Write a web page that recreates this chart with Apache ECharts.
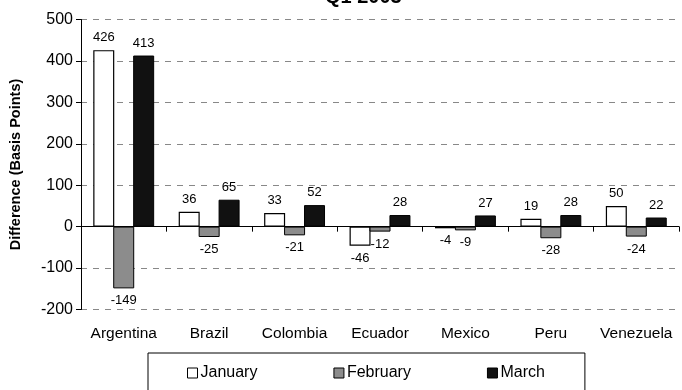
<!DOCTYPE html>
<html>
<head>
<meta charset="utf-8">
<style>
html,body{margin:0;padding:0;background:#fff;}
#chart{width:682px;height:390px;}
</style>
<script src="https://cdn.jsdelivr.net/npm/echarts@6/dist/echarts.min.js"></script>
</head>
<body>
<div id="chart"></div>
<script>
var categories = ['Argentina', 'Brazil', 'Colombia', 'Ecuador', 'Mexico', 'Peru', 'Venezuela'];
var january = [426, 36, 33, -46, -4, 19, 50];
var february = [-149, -25, -21, -12, -9, -28, -24];
var march = [413, 65, 52, 28, 27, 28, 22];
var seriesNames = ['January', 'February', 'March'];
var titleText = 'Q1 2003';
var yAxisName = 'Difference (Basis Points)';

var FONT = '"Liberation Sans", Arial, sans-serif';

function withLabels(arr) {
  return arr.map(function (v) {
    return { value: v, label: { position: v < 0 ? 'bottom' : 'top' } };
  });
}

var chart = echarts.init(document.getElementById('chart'));
var option = {
  backgroundColor: '#fff',
  animation: false,
  textStyle: { fontFamily: FONT, color: '#000' },
  title: {
    text: titleText,
    left: 325,
    top: -13,
    padding: 0,
    textStyle: { fontFamily: FONT, fontSize: 20, fontWeight: 'bold', color: '#000' }
  },
  legend: {
    data: seriesNames,
    left: 148,
    top: 353,
    orient: 'horizontal',
    padding: [12, 40, 20, 39],
    itemGap: 76,
    itemWidth: 10,
    itemHeight: 10,
    icon: 'rect',
    itemStyle: { borderColor: '#000', borderWidth: 1 },
    borderColor: '#000',
    borderWidth: 1,
    textStyle: { fontFamily: FONT, fontSize: 16, color: '#000', padding: [0, 0, 0, -2] }
  },
  grid: { left: 77, right: 3, top: 19.5, bottom: 80.5, containLabel: false },
  xAxis: [
    {
      type: 'category',
      data: categories,
      axisLine: { show: false, onZero: false },
      axisTick: { show: false },
      axisLabel: { interval: 0, fontFamily: FONT, fontSize: 15.5, color: '#000', margin: 16 },
      splitLine: { show: false }
    },
    {
      type: 'category',
      data: categories,
      position: 'bottom',
      axisLine: { show: true, onZero: true, lineStyle: { color: '#000', width: 1 } },
      axisTick: { show: true, interval: 0, length: 5, lineStyle: { color: '#000' } },
      axisLabel: { show: false },
      splitLine: { show: false }
    }
  ],
  yAxis: {
    type: 'value',
    min: -200,
    max: 500,
    interval: 100,
    name: yAxisName,
    nameLocation: 'middle',
    nameRotate: 90,
    nameGap: 58,
    nameTextStyle: { fontFamily: FONT, fontSize: 14.5, fontWeight: 'bold', color: '#000' },
    axisLine: { show: true, lineStyle: { color: '#000', width: 1 } },
    axisTick: { show: true, length: 5, lineStyle: { color: '#000' } },
    axisLabel: { fontFamily: FONT, fontSize: 16, color: '#000', margin: 8 },
    splitLine: { show: true, lineStyle: { color: '#888', type: [6, 6], width: 1 } }
  },
  series: [
    {
      name: seriesNames[0], type: 'bar', xAxisIndex: 0,
      data: withLabels(january),
      barWidth: 21, barGap: '-5%',
      itemStyle: { color: '#fff', borderColor: '#000', borderWidth: 1.2 },
      label: { show: true, fontFamily: FONT, fontSize: 13, color: '#000', distance: 6 }
    },
    {
      name: seriesNames[1], type: 'bar', xAxisIndex: 0,
      data: withLabels(february),
      barWidth: 21, barGap: '-5%',
      itemStyle: { color: '#8c8c8c', borderColor: '#000', borderWidth: 1 },
      label: { show: true, fontFamily: FONT, fontSize: 13, color: '#000', distance: 6 }
    },
    {
      name: seriesNames[2], type: 'bar', xAxisIndex: 0,
      data: withLabels(march),
      barWidth: 21, barGap: '-5%',
      itemStyle: { color: '#111', borderColor: '#000', borderWidth: 1 },
      label: { show: true, fontFamily: FONT, fontSize: 13, color: '#000', distance: 6 }
    }
  ]
};
chart.setOption(option);
</script>
</body>
</html>
